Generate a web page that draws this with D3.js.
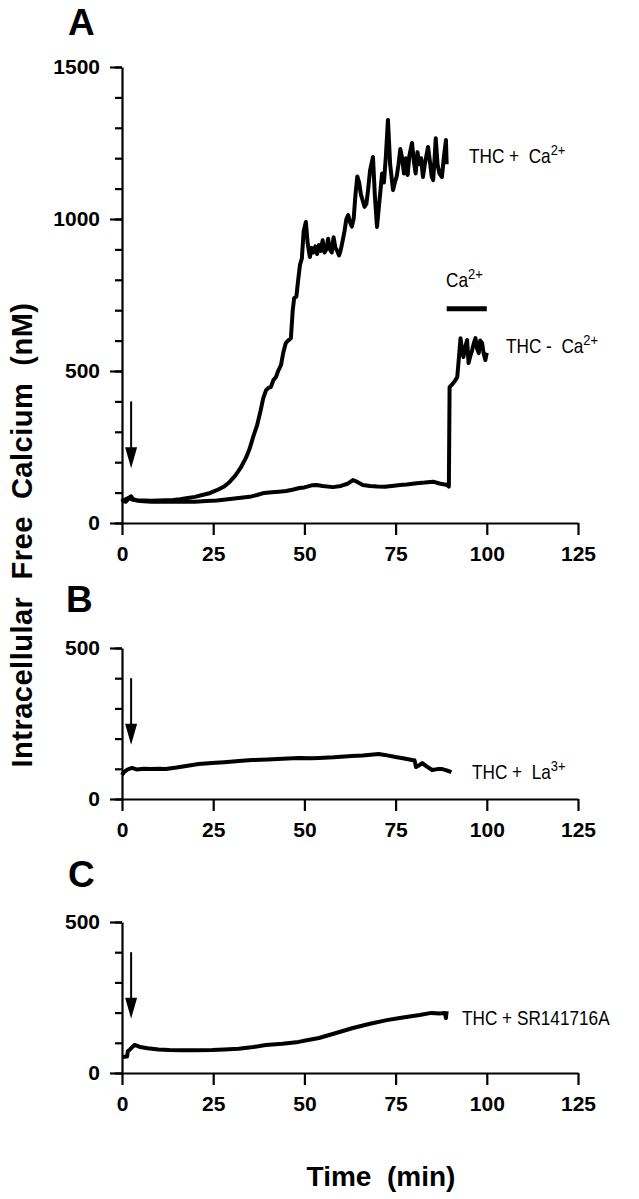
<!DOCTYPE html>
<html lang="en">
<head>
<meta charset="UTF-8">
<title>Intracellular free calcium</title>
<script src="https://cdnjs.cloudflare.com/ajax/libs/d3/7.8.5/d3.min.js"></script>
<style>
    body { margin: 0; background: #fff; }
    svg { display: block; }
    text { font-family: "Liberation Sans", Arial, Helvetica, sans-serif; fill: #000; }
    .axis path, .axis line { stroke: #000; stroke-width: 2.2; }
    .axis text { font-size: 21px; font-weight: bold; font-family: "Liberation Sans", Arial, sans-serif; }
    .trace { fill: none; stroke: #000; stroke-width: 4; stroke-linejoin: round; }
</style>
</head>
<body>
<svg id="chart" width="639" height="1199"></svg>
<script>
// panel A, THC + Ca2+
var a1Time = [0, 0.5, 1, 2, 2.5, 3, 4, 6, 8, 10, 12, 14, 16, 18, 20, 22, 24, 26, 28, 29.5,
    31, 32.5, 34, 35, 36, 37, 38, 38.7, 39.5, 40.2, 40.8, 41.5, 42.2, 42.8, 43.6, 44.2, 44.9, 45.5, 46.3, 46.8,
    47.2, 47.8, 48.3, 48.8, 49.3, 49.8, 50.4, 50.9, 51.5, 52, 52.5, 53, 53.5, 54, 54.5, 55, 55.5, 56, 56.5, 57,
    57.5, 58, 58.5, 59, 59.5, 60, 60.5, 61, 61.5, 62, 62.5, 63, 63.5, 64, 64.5, 65, 65.5, 66, 66.5, 67,
    67.5, 68, 68.8, 69.3, 69.9, 70.5, 71.3, 71.8, 72.3, 72.9, 73.5, 74.3, 74.8, 75.3, 75.8, 76.3, 76.8, 77.3, 77.8, 78.3,
    78.8, 79.5, 80, 80.5, 81, 81.5, 82, 82.5, 83, 83.9, 84.4, 84.9, 85.3, 85.7, 86, 86.5, 87, 87.7, 88.2, 88.8, 89];
var a1Ca = [80, 72, 78, 84, 88, 78, 75, 74, 73, 74, 75, 76, 78, 82, 86, 92, 98, 108, 120, 135,
    155, 181, 215, 245, 285, 320, 370, 410, 437, 445, 447, 470, 480, 500, 520, 560, 592, 600, 608, 700,
    740, 745, 800, 850, 870, 960, 990, 920, 875, 905, 890, 910, 885, 915, 895, 930, 890, 900, 935, 900,
    890, 940, 905, 895, 880, 900, 930, 960, 1000, 1013, 990, 975, 1000, 1080, 1140, 1120, 1080, 1060, 1040, 1050,
    1100, 1160, 1204, 1080, 974, 1050, 1150, 1120, 1200, 1326, 1180, 1095, 1120, 1140, 1180, 1230, 1200, 1150, 1200, 1145,
    1210, 1250, 1190, 1150, 1220, 1180, 1200, 1138, 1180, 1237, 1190, 1140, 1128, 1200, 1266, 1180, 1150, 1138, 1200, 1260, 1180];

// panel A, THC - Ca2+
var a2Time = [0, 1, 2, 3, 5, 8, 11, 14, 17, 20, 23, 26, 29, 32, 35, 37, 39, 41, 43, 45,
    47, 48.6, 50, 52, 53.3, 55, 57.8, 60, 62, 63.3, 64.5, 66, 68, 70, 72, 74, 76.2, 78, 80.8, 83,
    85.3, 87, 89.2, 89.6, 89.8, 90.8, 91.4, 91.9, 92.3, 92.8, 93.2, 93.6, 94.1, 94.6, 95, 95.5, 96, 96.4, 96.9, 97.3,
    97.8, 98.2, 98.7, 99.1, 99.6, 100];
var a2Ca = [75, 70, 82, 76, 72, 70, 70, 71, 70, 70, 72, 74, 78, 82, 86, 92, 99, 101, 103, 105,
    110, 115, 117, 124, 125, 122, 118, 122, 130, 141, 135, 125, 122, 120, 119, 122, 125, 127, 131, 133,
    136, 130, 125, 120, 447, 460, 470, 480, 536, 608, 570, 546, 580, 602, 526, 550, 569, 590, 608, 575,
    559, 600, 592, 560, 536, 560];

// panel B, THC + La3+
var bTime = [0, 0.6, 1.3, 2, 2.7, 4, 6, 8, 10, 12, 15, 18, 21, 24.6, 28, 32, 35.6, 40, 44, 48.5,
    52, 54, 58, 63, 66, 70.4, 72, 75, 77, 79.5, 80.2, 80.6, 81.5, 82.3, 83.5, 85, 86.5, 87.8, 89, 90.3];
var bCa = [79, 90, 96, 100, 103, 98, 100, 99, 100, 99, 104, 110, 116, 119, 122, 126, 129, 131, 133, 136,
    135, 136, 138, 142, 144, 149, 146, 139, 135, 129, 128, 106, 112, 119, 108, 96, 99, 99, 95, 89];

// panel C, THC + SR141716A
var cTime = [0, 1.4, 1.6, 2.2, 3, 3.5, 4.2, 5, 7, 10, 13, 16, 20, 24.7, 28, 32, 36, 39.4, 44, 48.4,
    51, 54, 58, 63.3, 68, 72.6, 77, 81.6, 84.8, 87, 88.5, 88.8, 89];
var cCa = [53, 55, 72, 78, 88, 93, 90, 86, 82, 78, 76, 75, 75, 76, 78, 80, 86, 93, 97, 103,
    109, 116, 130, 149, 163, 175, 184, 192, 199, 197, 199, 182, 205];

var xTicks = [0, 25, 50, 75, 100, 125];
var caBar = [89, 100];       // Ca2+ added, min
var caBarLevel = 705;        // nM
var arrowTime = 2.5;         // THC added, min
var arrowFrom = 400;
var arrowTo = 180;

var svg = d3.select("#chart");

var x = d3.scaleLinear().domain([0, 125]).range([122, 578]);

var panels = [
    {name: "A", max: 1500, y0: 523, y1: 67, labelY: 35, labelX: 68},
    {name: "B", max: 500, y0: 799, y1: 648, labelY: 612, labelX: 66},
    {name: "C", max: 500, y0: 1073, y1: 922, labelY: 887, labelX: 68}
];

panels.forEach(function (p) {
    p.y = d3.scaleLinear().domain([0, p.max]).range([p.y0, p.y1]);

    svg.append("text")
        .attr("x", p.labelX)
        .attr("y", p.labelY)
        .style("font-size", "37px")
        .style("font-weight", "bold")
        .text(p.name);

    // minor y ticks every 100
    svg.append("g")
        .attr("class", "axis")
        .attr("transform", "translate(" + x(0) + ",0)")
        .call(d3.axisLeft(p.y).tickValues(d3.range(0, p.max + 1, 100)).tickSize(7).tickSizeOuter(0).tickFormat(""));

    // labelled y ticks
    var yMajor = svg.append("g")
        .attr("class", "axis")
        .attr("transform", "translate(" + x(0) + ",0)")
        .call(d3.axisLeft(p.y).tickValues(d3.range(0, p.max + 1, 500)).tickSize(12).tickSizeOuter(0)
            .tickPadding(10).tickFormat(d3.format("d")));
    yMajor.select(".domain").remove();

    svg.append("g")
        .attr("class", "axis")
        .attr("transform", "translate(0," + p.y0 + ")")
        .call(d3.axisBottom(x).tickValues(xTicks).tickSize(12).tickSizeOuter(0).tickPadding(11));

    // arrow for THC addition
    svg.append("line")
        .attr("x1", x(arrowTime)).attr("x2", x(arrowTime))
        .attr("y1", p.y(arrowFrom)).attr("y2", p.y(arrowTo) - 18)
        .attr("stroke", "#000").attr("stroke-width", 2);
    svg.append("path")
        .attr("d", "M" + (x(arrowTime) - 6) + "," + (p.y(arrowTo) - 21) +
            "L" + (x(arrowTime) + 6) + "," + (p.y(arrowTo) - 21) +
            "L" + x(arrowTime) + "," + p.y(arrowTo) + "Z")
        .attr("fill", "#000");
});

function traceLine(yScale) {
    return d3.line()
        .x(function (d) { return x(d[0]); })
        .y(function (d) { return yScale(d[1]); });
}

svg.append("path").attr("class", "trace").attr("d", traceLine(panels[0].y)(d3.zip(a1Time, a1Ca)));
svg.append("path").attr("class", "trace").attr("d", traceLine(panels[0].y)(d3.zip(a2Time, a2Ca)));
svg.append("path").attr("class", "trace").attr("d", traceLine(panels[1].y)(d3.zip(bTime, bCa)));
svg.append("path").attr("class", "trace").attr("d", traceLine(panels[2].y)(d3.zip(cTime, cCa)));

// Ca2+ bar
svg.append("line")
    .attr("x1", x(caBar[0])).attr("x2", x(caBar[1]))
    .attr("y1", panels[0].y(caBarLevel)).attr("y2", panels[0].y(caBarLevel))
    .attr("stroke", "#000").attr("stroke-width", 5);

// annotation labels, narrow face
function note(px, py, parts) {
    var t = svg.append("text")
        .attr("transform", "translate(" + px + "," + py + ") scale(0.86,1)")
        .style("font-size", "20px")
        .style("white-space", "pre");
    parts.forEach(function (part) {
        if (part.sup) {
            t.append("tspan").attr("dy", -8).style("font-size", "15px").text(part.sup);
            t.append("tspan").attr("dy", 8).text("");
        } else {
            t.append("tspan").text(part.text);
        }
    });
}

note(469, 163, [{text: "THC +  Ca"}, {sup: "2+"}]);
note(446, 287, [{text: "Ca"}, {sup: "2+"}]);
note(506, 353, [{text: "THC -  Ca"}, {sup: "2+"}]);
note(472, 779, [{text: "THC +  La"}, {sup: "3+"}]);
note(462, 1025, [{text: "THC + SR141716A"}]);

// axis titles
svg.append("text")
    .attr("transform", "translate(32,535) rotate(-90)")
    .attr("text-anchor", "middle")
    .style("font-size", "29px")
    .style("font-weight", "bold")
    .style("white-space", "pre")
    .style("letter-spacing", "0.5px")
    .text("Intracellular  Free  Calcium  (nM)");

svg.append("text")
    .attr("x", 381)
    .attr("y", 1186)
    .attr("text-anchor", "middle")
    .style("font-size", "28px")
    .style("font-weight", "bold")
    .style("white-space", "pre")
    .text("Time  (min)");
</script>
</body>
</html>
